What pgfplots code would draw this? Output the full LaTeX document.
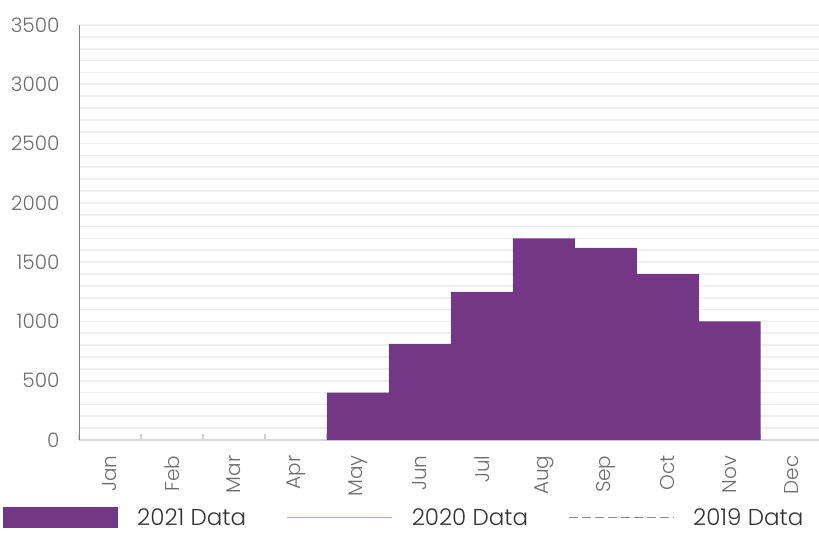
\documentclass[border=0pt]{standalone}
\usepackage{fontspec}
\setmainfont{Poppins Light}
\usepackage{pgfplots}
\pgfplotsset{compat=1.18}

\definecolor{barpurple}{HTML}{743785}
\definecolor{lilac}{HTML}{C99BDB}
\definecolor{ticklab}{HTML}{6E6E6E}
\definecolor{gridgray}{HTML}{EFEFEF}

\begin{document}
\begin{tikzpicture}
\begin{axis}[
    scale only axis,
    width=740pt, height=415pt,
    xmin=0, xmax=11.94,
    ymin=0, ymax=3500,
    separate axis lines,
    axis x line*=bottom,
    axis y line*=left,
    x axis line style={draw=black!15, line width=1.6pt},
    y axis line style={draw=black!50, line width=0.8pt},
    xtick={0.5,1.5,...,11.5},
    xticklabels={Jan,Feb,Mar,Apr,May,Jun,Jul,Aug,Sep,Oct,Nov,Dec},
    minor xtick={0,1,...,11},
    major x tick style={draw=none},
    minor x tick style={draw=black!18, line width=1.5pt},
    minor tick length=6pt,
    tick align=inside,
    x tick label style={rotate=90, anchor=east, font=\fontsize{20}{22}\selectfont, text=ticklab},
    xticklabel shift=12pt,
    ytick={0,500,...,3500},
    minor ytick={0,100,...,3500},
    ytick style={draw=none},
    y tick label style={font=\fontsize{20}{22}\selectfont, text=ticklab},
    yticklabel shift=16pt,
    /pgf/number format/1000 sep={},
    /pgf/number format/assume math mode=true,
    ymajorgrids, yminorgrids,
    major grid style={draw=gridgray, line width=1.8pt},
    minor grid style={draw=gridgray, line width=1.8pt},
    legend columns=3,
    legend style={at={(-0.1027,-0.1865)}, anchor=west, draw=none, fill=none,
        inner sep=0pt,
        font=\fontsize{23}{25}\selectfont,
        nodes={inner sep=0pt, text=black!80},
        /tikz/every odd column/.append style={column sep=19pt},
        /tikz/every even column/.append style={column sep=40pt}},
    legend cell align=left,
]
\addplot[ybar, bar width=1, fill=barpurple, draw=none,
    legend image code/.code={\fill[barpurple] (0pt,-10.5pt) rectangle (115pt,10.5pt);}]
coordinates {(4.5,400) (5.5,810) (6.5,1250) (7.5,1700) (8.5,1620) (9.5,1400) (10.5,1000)};
\addlegendentry{2021 Data}
\addlegendimage{legend image code/.code={\draw[lilac, line width=1.6pt] (0pt,0pt) -- (105pt,0pt);}}
\addlegendentry{2020 Data}
\addlegendimage{legend image code/.code={\draw[black!45, line width=0.9pt, dash pattern=on 9pt off 4pt] (0pt,0pt) -- (105pt,0pt);}}
\addlegendentry{2019 Data}
\end{axis}
\pgfresetboundingbox
\path[use as bounding box] (-79pt,-93pt) rectangle (740pt,440pt);
\end{tikzpicture}
\end{document}
